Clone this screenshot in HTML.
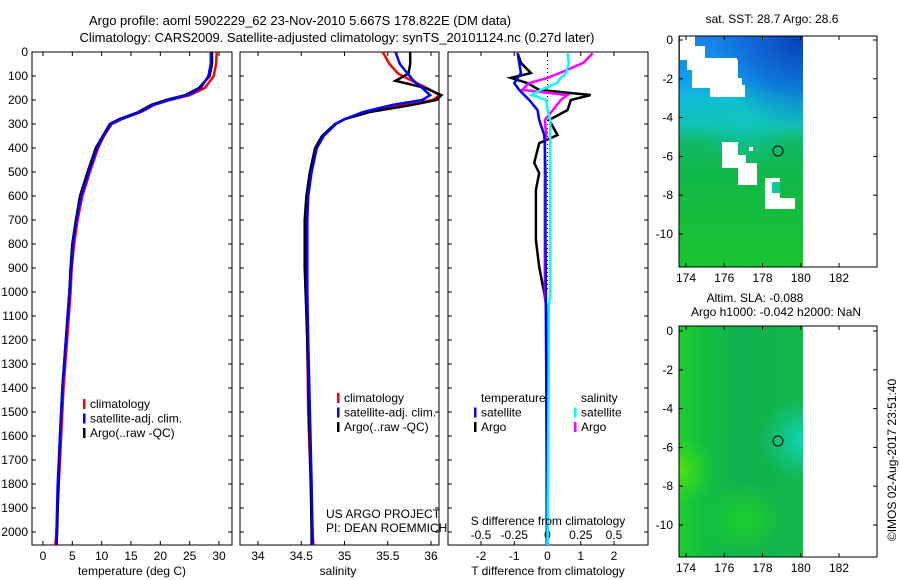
<!DOCTYPE html>
<html><head><meta charset="utf-8"><style>
body{margin:0;background:#fff;}
svg{display:block;font-family:"Liberation Sans",sans-serif;font-size:12px;}
</style></head><body>
<svg id="c" width="900" height="580" viewBox="0 0 900 580">
<text x="300" y="25" text-anchor="middle" font-size="13">Argo profile: aoml 5902229_62 23-Nov-2010 5.667S 178.822E (DM data)</text>
<text x="337" y="42" text-anchor="middle" font-size="13">Climatology: CARS2009. Satellite-adjusted climatology: synTS_20101124.nc (0.27d later)</text>
<g id="g1"></g>
<g id="g2"></g>
<g id="g3"></g>
<g>
<defs>
<linearGradient id="sstg" x1="0" y1="0" x2="0" y2="1">
<stop offset="0" stop-color="#1a80e8"/><stop offset="0.19" stop-color="#10a0f0"/><stop offset="0.27" stop-color="#10bcd8"/><stop offset="0.38" stop-color="#10c4b8"/><stop offset="0.46" stop-color="#10b868"/><stop offset="0.6" stop-color="#10b848"/><stop offset="1" stop-color="#18c430"/></linearGradient>
<radialGradient id="sstb" gradientUnits="userSpaceOnUse" cx="803" cy="36" r="95"><stop offset="0" stop-color="#0838b0" stop-opacity="0.95"/><stop offset="0.6" stop-color="#0a50c8" stop-opacity="0.5"/><stop offset="1" stop-color="#0a60d0" stop-opacity="0"/></radialGradient>
<radialGradient id="sstc" gradientUnits="userSpaceOnUse" cx="745" cy="125" r="45"><stop offset="0" stop-color="#10c8c0" stop-opacity="0.6"/><stop offset="1" stop-color="#10c8c0" stop-opacity="0"/></radialGradient>
<linearGradient id="slag" x1="0" y1="0" x2="1" y2="0"><stop offset="0" stop-color="#20cc30"/><stop offset="0.2" stop-color="#10c040"/><stop offset="0.5" stop-color="#10b050"/><stop offset="1" stop-color="#10b848"/></linearGradient>
<radialGradient id="slat" gradientUnits="userSpaceOnUse" cx="803" cy="440" r="45"><stop offset="0" stop-color="#10d8b8"/><stop offset="1" stop-color="#10c8a0" stop-opacity="0"/></radialGradient>
<radialGradient id="slal" gradientUnits="userSpaceOnUse" cx="680" cy="470" r="35"><stop offset="0" stop-color="#50e010"/><stop offset="1" stop-color="#30d820" stop-opacity="0"/></radialGradient>
<radialGradient id="slab" gradientUnits="userSpaceOnUse" cx="745" cy="520" r="40"><stop offset="0" stop-color="#20d820" stop-opacity="0.8"/><stop offset="1" stop-color="#20d820" stop-opacity="0"/></radialGradient>
</defs>
<rect x="679" y="36" width="124" height="231" fill="url(#sstg)"/>
<rect x="679" y="36" width="124" height="231" fill="url(#sstc)"/>
<rect x="679" y="36" width="124" height="231" fill="url(#sstb)"/>
<path d="M680 36H695V46H705V58H737V60H738V78H742V85H745V97H710V88H692V70H687V60H680Z" fill="#fff"/>
<rect x="722" y="142" width="16" height="26" fill="#fff"/><rect x="726" y="155" width="20" height="13" fill="#fff"/><rect x="738" y="163" width="19" height="22" fill="#fff"/>
<rect x="749" y="147" width="4" height="4" fill="#fff"/>
<rect x="765" y="178" width="15" height="31" fill="#fff"/><rect x="765" y="198" width="30" height="11" fill="#fff"/><rect x="772" y="182" width="8" height="11" fill="#10c8a0"/>
<circle cx="778" cy="151" r="5" fill="none" stroke="#000"/>
<rect x="679" y="326" width="124" height="231" fill="url(#slag)"/>
<rect x="679" y="326" width="124" height="231" fill="url(#slat)"/>
<rect x="679" y="326" width="124" height="231" fill="url(#slal)"/>
<rect x="679" y="326" width="124" height="231" fill="url(#slab)"/>
<circle cx="778" cy="441" r="5" fill="none" stroke="#000"/>
<rect x="679" y="36" width="198" height="231" fill="none" stroke="#000"/>
<rect x="679" y="326" width="198" height="231" fill="none" stroke="#000"/>
<text x="772" y="23" text-anchor="middle">sat. SST: 28.7 Argo: 28.6</text>
<text x="755" y="302" text-anchor="middle">Altim. SLA: -0.088</text>
<text x="776" y="316" text-anchor="middle">Argo h1000: -0.042 h2000: NaN</text>
<g id="maxes"></g>
<text transform="translate(896,460) rotate(-90)" text-anchor="middle">©IMOS 02-Aug-2017 23:51:40</text>
</g>
</svg>
<script>
const depthTicks=[0,100,200,300,400,500,600,700,800,900,1000,1100,1200,1300,1400,1500,1600,1700,1800,1900,2000];
const tTicks=[0,5,10,15,20,25,30];
const sTicks=[34,34.5,35,35.5,36];
const dTTicks=[-2,-1,0,1,2];
const dSTicks=[-0.5,-0.25,0,0.25,0.5];
const tDepth=[0,50,100,150,180,200,220,250,280,300,350,400,500,600,700,800,900,1000,1200,1400,1600,1800,2000,2054];
const tArgo=[28.8,28.8,28.4,26.6,24.2,21.0,18.5,16.3,13.0,11.4,10.2,9.0,7.6,6.3,5.6,5.0,4.7,4.5,3.9,3.3,2.9,2.6,2.4,2.3];
const tSat=[28.6,28.6,28.2,26.9,24.6,21.4,18.8,16.6,13.3,11.6,10.3,9.2,7.8,6.5,5.7,5.1,4.8,4.5,3.9,3.3,2.9,2.5,2.3,2.3];
const tClim=[29.6,29.5,29.1,27.6,25.0,21.6,19.0,16.7,13.4,11.7,10.4,9.4,8.0,6.7,5.9,5.3,4.9,4.7,4.1,3.5,3.1,2.7,2.3,2.1];
const sDepth=[0,50,90,120,150,180,200,220,250,280,300,350,400,500,600,700,800,900,1000,1200,1500,1800,2000,2054];
const sArgo=[35.76,35.76,35.74,35.59,35.94,36.12,36.06,35.79,35.29,35.00,34.89,34.74,34.66,34.60,34.56,34.54,34.54,34.54,34.55,34.57,34.59,34.61,34.62,34.62];
const sSat=[35.59,35.64,35.73,35.80,35.90,35.99,35.90,35.56,35.22,35.00,34.90,34.76,34.68,34.62,34.58,34.57,34.57,34.57,34.57,34.58,34.60,34.62,34.63,34.63];
const sClim=[35.44,35.52,35.62,35.78,35.95,36.10,36.02,35.70,35.25,35.00,34.90,34.75,34.67,34.61,34.57,34.56,34.56,34.56,34.56,34.57,34.58,34.61,34.63,34.64];
const dDepth=[5,45,88,108,130,158,179,200,242,283,346,380,462,504,575,783,896,1004,1062,1300,1600,2054];
const dTArgo=[-0.9,-0.8,-0.5,-1.1,-0.6,-0.25,1.3,0.7,0.6,0.05,0.3,-0.25,-0.4,-0.25,-0.35,-0.35,-0.25,-0.1,-0.03,0,0,0];
const dTSat=[-0.9,-0.85,-0.8,-0.9,-1.0,-0.85,-0.7,-0.55,-0.3,-0.25,-0.1,-0.08,-0.07,-0.06,-0.06,-0.06,-0.05,-0.05,-0.05,-0.04,-0.03,-0.02];
const dSArgo=[0.34,0.27,0.09,0.0,-0.14,-0.19,0.15,0.1,0.04,-0.02,-0.01,-0.02,-0.02,-0.02,-0.02,-0.02,-0.02,-0.02,-0.01,-0.01,0,0];
const dSSat=[0.15,0.16,0.14,0.1,0.07,-0.05,-0.12,-0.01,0.0,0.02,0.02,0.02,0.02,0.02,0.02,0.02,0.02,0.02,0.01,0.01,0.005,0];
const lonTicks=[174,176,178,180,182];
const latTicks=[0,-2,-4,-6,-8,-10];

const NS='http://www.w3.org/2000/svg';
function mk(parent,tag,attrs,text){const e=document.createElementNS(NS,tag);for(const k in attrs)e.setAttribute(k,attrs[k]);if(text!==undefined)e.textContent=text;parent.appendChild(e);return e;}
const TOP=52,BOT=545;
const yD=d=>TOP+d*0.24;
function lin(v0,p0,v1,p1){return v=>p0+(v-v0)*(p1-p0)/(v1-v0);}
const xT=lin(0,43,30,219), xS=lin(34,258,36,431), xDT=lin(-2,481,2,614), xDS=lin(-0.5,481,0.5,614);

function frame(g,x0,x1,ticks,xf,ylabels,fmt){
  const r=mk(g,'rect',{x:x0,y:TOP,width:x1-x0,height:BOT-TOP,fill:'none',stroke:'#000'});
  
  
  depthTicks.forEach(d=>{
    mk(g,'line',{x1:x0,x2:x0+4,y1:yD(d),y2:yD(d),stroke:'#000'});
    mk(g,'line',{x1:x1-4,x2:x1,y1:yD(d),y2:yD(d),stroke:'#000'});
    if(ylabels){const t=mk(g,'text',{x:x0-4,y:yD(d)+4,'text-anchor':'end'},String(d));
      
      }
  });
  ticks.forEach(v=>{const x=xf(v);
    mk(g,'line',{x1:x,x2:x,y1:BOT,y2:BOT-4,stroke:'#000'});
    mk(g,'line',{x1:x,x2:x,y1:TOP,y2:TOP+4,stroke:'#000'});
    if(fmt!==null){const t=mk(g,'text',{x:x,y:BOT+15,'text-anchor':'middle'},String(v));
      
      }
  });
}
function line(g,xs,ds,xf,col,name,w){
  const p=xs.map((v,i)=>(i?'L':'M')+xf(v).toFixed(1)+' '+yD(ds[i]).toFixed(1)).join('');
  const e=mk(g,'path',{d:p,fill:'none',stroke:col,'stroke-width':w||2.5});
  
  
}
function legend(g,x,y,items){
  items.forEach((it,i)=>{
    if(it[1])mk(g,'rect',{x:x,y:y+i*14.5-9,width:2.5,height:10,fill:it[1]});
    const t=mk(g,'text',{x:x+7,y:y+i*14.5},it[0]);
    
    
  });
}
const g1=document.getElementById('g1'),g2=document.getElementById('g2'),g3=document.getElementById('g3');
frame(g1,32,232,tTicks,xT,true);
line(g1,tClim,tDepth,xT,'#f00','temp-climatology-line');
line(g1,tArgo,tDepth,xT,'#000','temp-argo-line');
line(g1,tSat,tDepth,xT,'#00f','temp-satellite-line');
legend(g1,83,408,[['climatology','#f00'],['satellite-adj. clim.','#00f'],['Argo(..raw -QC)','#000']]);
const a1=mk(g1,'text',{x:132,y:575,'text-anchor':'middle'},'temperature (deg C)');



frame(g2,240,439,sTicks,xS,false);
line(g2,sClim,sDepth,xS,'#f00','sal-climatology-line');
line(g2,sArgo,sDepth,xS,'#000','sal-argo-line');
line(g2,sSat,sDepth,xS,'#00f','sal-satellite-line');
legend(g2,337,402,[['climatology','#f00'],['satellite-adj. clim.','#00f'],['Argo(..raw -QC)','#000']]);
const a2=mk(g2,'text',{x:338,y:575,'text-anchor':'middle'},'salinity');


const c1=mk(g2,'text',{x:326,y:518},'US ARGO PROJECT');


const c2=mk(g2,'text',{x:326,y:532},'PI: DEAN ROEMMICH');



frame(g3,448,648,dTTicks,xDT,false);
dSTicks.forEach(v=>{const t=mk(g3,'text',{x:xDS(v),y:539,'text-anchor':'middle'},String(v));
  
  });
mk(g3,'line',{x1:xDT(0),x2:xDT(0),y1:TOP,y2:yD(1000),stroke:'#000','stroke-dasharray':'1,3'});
line(g3,dTArgo,dDepth,xDT,'#000','tdiff-argo-line');
line(g3,dSArgo,dDepth,xDS,'#f0f','sdiff-argo-line');
line(g3,dTSat,dDepth,xDT,'#00f','tdiff-satellite-line');
line(g3,dSSat,dDepth,xDS,'#0ff','sdiff-satellite-line');
legend(g3,474,402,[['temperature',null],['satellite','#00f'],['Argo','#000']]);
legend(g3,574,402,[['salinity',null],['satellite','#0ff'],['Argo','#f0f']]);
const a3=mk(g3,'text',{x:548,y:525,'text-anchor':'middle'},'S difference from climatology');


const a4=mk(g3,'text',{x:548,y:575,'text-anchor':'middle'},'T difference from climatology');



const mg=document.getElementById('maxes');
const xL=lin(174,686,182,839);
[[36,267,lin(0,40,-10,234)],[326,557,lin(0,331,-10,525)]].forEach(([y0,y1,yf])=>{
  lonTicks.forEach(v=>{const x=xL(v);
    mk(mg,'line',{x1:x,x2:x,y1:y1,y2:y1-4,stroke:'#000'});
    mk(mg,'line',{x1:x,x2:x,y1:y0,y2:y0+4,stroke:'#000'});
    const t=mk(mg,'text',{x:x,y:y1+15,'text-anchor':'middle'},String(v));
    
    });
  latTicks.forEach(v=>{const y=yf(v);
    mk(mg,'line',{x1:679,x2:683,y1:y,y2:y,stroke:'#000'});
    mk(mg,'line',{x1:873,x2:877,y1:y,y2:y,stroke:'#000'});
    const t=mk(mg,'text',{x:673,y:y+4,'text-anchor':'end'},String(v));
    
    });
});
</script>
</body></html>
